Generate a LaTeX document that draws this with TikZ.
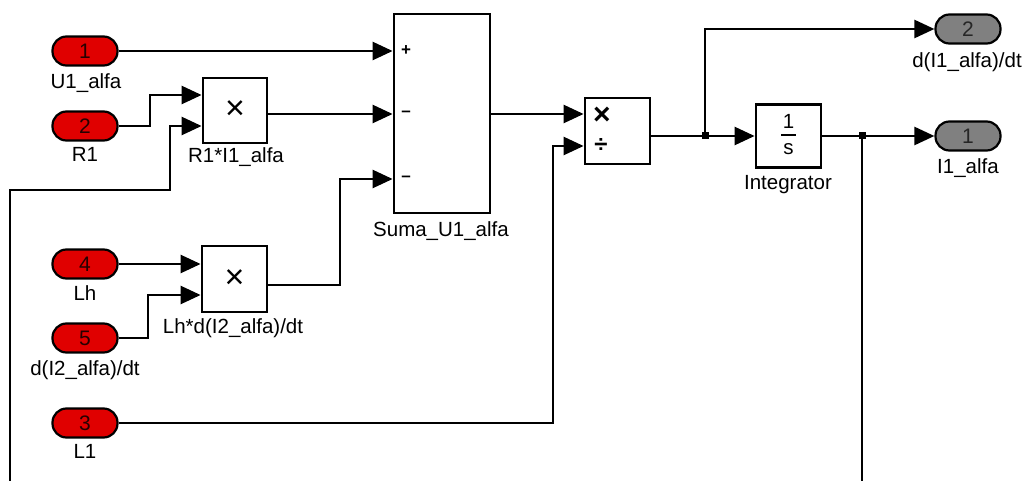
\documentclass[tikz,border=0pt]{standalone}
\usepackage{fontspec}
\setmainfont{Liberation Sans}
\usetikzlibrary{arrows.meta,calc}
\definecolor{inred}{RGB}{224,0,0}
\definecolor{outgray}{RGB}{128,128,128}
\begin{document}
\begin{tikzpicture}[x=1pt,y=-1pt,
  pill/.style={draw=black, line width=2.2pt, rounded corners=14pt, minimum width=65pt, minimum height=29pt, inner sep=0pt, font=\fontsize{21}{22}\selectfont},
  inport/.style={pill, fill=inred, text=black!85!red},
  outport/.style={pill, fill=outgray, text=black!85},
  blk/.style={draw=black, line width=2.8pt, fill=white, inner sep=0pt},
  lbl/.style={font=\fontsize{20.5}{21}\selectfont, inner sep=0pt, text height=15pt, text depth=4pt},
  sgn/.style={font=\fontsize{17}{17}\selectfont\bfseries, inner sep=0pt},
  sig/.style={line width=2.5pt, -{Triangle[length=20pt,width=18pt]}},
  wire/.style={line width=2.5pt},
  dotj/.style={fill=black, minimum size=7pt, inner sep=0pt},
]
\useasboundingbox (0,0) rectangle (1036,481);

% inports
\node[inport] (in1) at (85,51) {1};
\node[lbl] at (86,83) {U1\_alfa};
\node[inport] (in2) at (85,126) {2};
\node[lbl] at (85,156) {R1};
\node[inport] (in4) at (85,264) {4};
\node[lbl] at (85,295) {Lh};
\node[inport] (in5) at (85,338) {5};
\node[lbl] at (85,370) {d(I2\_alfa)/dt};
\node[inport] (in3) at (85,423) {3};
\node[lbl] at (85,453) {L1};

% blocks
\node[blk, minimum width=64pt, minimum height=65pt, font=\fontsize{34}{34}\selectfont] (p1) at (235,110.5) {×};
\node[lbl] at (236,157) {R1*I1\_alfa};
\node[blk, minimum width=65pt, minimum height=66pt, font=\fontsize{34}{34}\selectfont] (p2) at (234.5,279) {×};
\node[lbl] at (233,328) {Lh*d(I2\_alfa)/dt};
\node[blk, minimum width=96pt, minimum height=199pt] (sum) at (442,113.5) {};
\node[lbl] at (441,231) {Suma\_U1\_alfa};
\node[sgn] at (406,51) {+};
\node[sgn] at (406,114) {–};
\node[sgn] at (406,179) {–};
\node[blk, minimum width=65pt, minimum height=66pt] (div) at (617.5,131) {};
\node[sgn, font=\fontsize{30}{30}\selectfont\bfseries] at (602,116) {×};
\node[sgn, font=\fontsize{24}{24}\selectfont\bfseries] at (601,146) {÷};
\node[blk, minimum width=65pt, minimum height=63pt] (integ) at (788.5,136) {};
\node[lbl] (one) at ($(integ.center)+(0,-13)$) {1};
\node[lbl] (ess) at ($(integ.center)+(0,13)$) {s};
\draw[line width=1.8pt] ($(integ.center)+(-7.5,-1)$) -- ($(integ.center)+(7.5,-1)$);
\node[lbl] at (788,184) {Integrator};

% outports
\node[outport] (out2) at (968,29) {2};
\node[lbl] at (967,62) {d(I1\_alfa)/dt};
\node[outport] (out1) at (968,136) {1};
\node[lbl] at (968,168) {I1\_alfa};

% junctions and free ends
\node[dotj] (j1) at (705,136) {};
\node[dotj] (j2) at (862,136) {};
\coordinate (fbR) at (862,481);
\coordinate (fbL) at (10,481);

% wires
\draw[sig] (in1.east) -- (sum.west |- in1.east);
\draw[sig] (in2.east) -- (150,126) |- (p1.west |- 0,95);
\draw[sig] (fbL) -- (10,190) -- (170,190) |- (p1.west |- 0,126);
\draw[sig] (p1.east |- 0,114) -- (sum.west |- 0,114);
\draw[sig] (in4.east) -- (p2.west |- in4.east);
\draw[sig] (in5.east) -- (148,338) |- (p2.west |- 0,295);
\draw[sig] (p2.east |- 0,285) -- (340,285) |- (sum.west |- 0,179);
\draw[sig] (sum.east |- 0,114) -- (div.west |- 0,114);
\draw[sig] (in3.east) -- (553,423) |- (div.west |- 0,146);
\draw[sig] (div.east |- 0,136) -- (integ.west);
\draw[sig] (j1.center) |- (out2.west);
\draw[sig] (integ.east) -- (out1.west);
\draw[wire] (j2.center) -- (fbR);
\end{tikzpicture}
\end{document}
